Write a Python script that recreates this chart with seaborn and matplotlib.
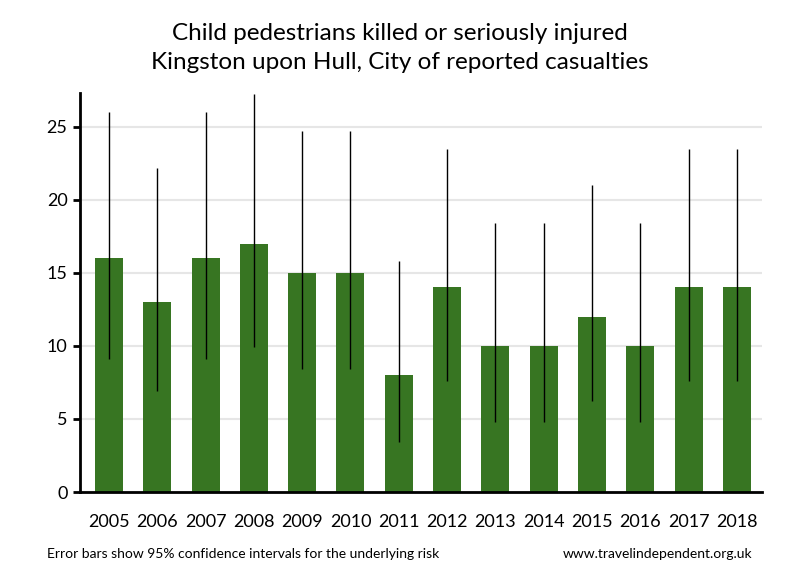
import numpy as np
import pandas as pd
import matplotlib
matplotlib.use("Agg")
import matplotlib.pyplot as plt
import seaborn as sns

# Data
years = [str(y) for y in range(2005, 2019)]
casualties = [16, 13, 16, 17, 15, 15, 8, 14, 10, 10, 12, 10, 14, 14]
ci_low = [9.1, 6.9, 9.1, 9.9, 8.4, 8.4, 3.4, 7.6, 4.8, 4.8, 6.2, 4.8, 7.6, 7.6]
ci_high = [26.0, 22.2, 26.0, 27.2, 24.7, 24.7, 15.8, 23.5, 18.4, 18.4, 21.0, 18.4, 23.5, 23.5]

df = pd.DataFrame({"year": years, "casualties": casualties,
                   "low": ci_low, "high": ci_high})

sns.set_style("white")
plt.rcParams["font.family"] = ["Lato", "DejaVu Sans"]
plt.rcParams["text.color"] = "black"
plt.rcParams["xtick.color"] = "black"
plt.rcParams["ytick.color"] = "black"

fig = plt.figure(figsize=(8, 5.8), dpi=100)
ax = fig.add_axes([0.1, 0.1517, 0.8525, 0.688])

sns.barplot(data=df, x="year", y="casualties", color="#377522",
            saturation=1, width=0.58, linewidth=0, ax=ax, zorder=2)

# confidence intervals as plain vertical lines (no caps)
ax.vlines(np.arange(len(df)), df["low"], df["high"], color="black",
          linewidth=1, zorder=3)

ax.set_ylim(0, 27.3)
ax.set_xlim(-0.6, len(df) - 0.48)
ax.set_yticks([0, 5, 10, 15, 20, 25])
ax.yaxis.grid(True, color="#e6e6e6", linewidth=1.5, zorder=0)
ax.set_axisbelow(True)
ax.set_xlabel("")
ax.set_ylabel("")

for side in ["top", "right"]:
    ax.spines[side].set_visible(False)
for side in ["left", "bottom"]:
    ax.spines[side].set_color("black")
    ax.spines[side].set_linewidth(2)

ax.tick_params(axis="y", direction="out", length=5, width=2, color="black",
               labelcolor="black", labelsize=13, pad=4, left=True)
ax.tick_params(axis="x", length=0, labelcolor="black", labelsize=13, pad=16)

fig.text(0.5, 0.942, "Child pedestrians killed or seriously injured",
         ha="center", va="center", fontsize=17.5)
fig.text(0.5, 0.892, "Kingston upon Hull, City of reported casualties",
         ha="center", va="center", fontsize=17.5)
fig.text(0.059, 0.045, "Error bars show 95% confidence intervals for the underlying risk",
         ha="left", va="center", fontsize=10)
fig.text(0.941, 0.045, "www.travelindependent.org.uk",
         ha="right", va="center", fontsize=10)

fig.savefig("out.png", dpi=100, facecolor="white")
